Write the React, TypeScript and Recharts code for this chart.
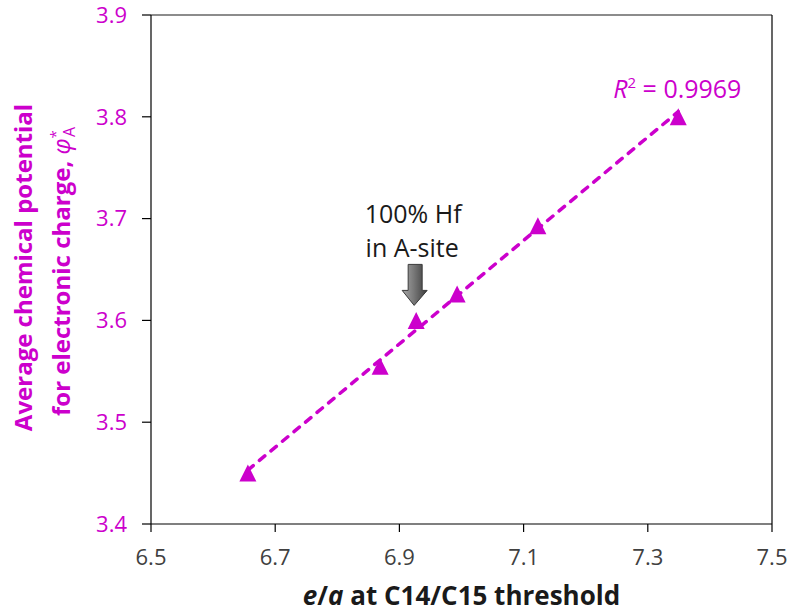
import React from "react";
import {
  ScatterChart,
  Scatter,
  XAxis,
  YAxis,
  Label,
  ReferenceLine,
  ReferenceDot,
} from "recharts";

// e/a at the C14/C15 threshold vs average chemical potential
const eaValues = [6.656, 6.869, 6.927, 6.993, 7.123, 7.349];
const phiValues = [3.45, 3.555, 3.6, 3.626, 3.693, 3.8];

// dashed linear trendline, end points
const trendX = [6.656, 7.349];
const trendY = [3.453, 3.805];

const xTicks = [6.5, 6.7, 6.9, 7.1, 7.3, 7.5];
const yTicks = [3.4, 3.5, 3.6, 3.7, 3.8, 3.9];

const rSquared = "0.9969";
const hfPoint = { x: 6.927, y: 3.6 };
const lastPoint = { x: 7.349, y: 3.8 };

const points = eaValues.map((x, i) => ({ x, y: phiValues[i] }));
const trend = trendX.map((x, i) => ({ x, y: trendY[i] }));

const MAGENTA = "#CC00CC";
const FONT = "'Open Sans', sans-serif";

function TriangleMarker(props: any) {
  const { cx, cy } = props;
  if (cx == null || cy == null) return <g />;
  const h = 8.5;
  return (
    <polygon
      points={`${cx},${cy - h} ${cx - h},${cy + h} ${cx + h},${cy + h}`}
      fill={MAGENTA}
    />
  );
}

function NoMarker() {
  return <g />;
}

function HfNote(props: any) {
  const { cx, cy } = props;
  if (cx == null || cy == null) return <g />;
  const arrow = [
    [cx - 8, cy - 56],
    [cx + 6, cy - 56],
    [cx + 6, cy - 30],
    [cx + 11, cy - 30],
    [cx - 2, cy - 15],
    [cx - 14, cy - 30],
    [cx - 8, cy - 30],
  ]
    .map((p) => p.join(","))
    .join(" ");
  return (
    <g>
      <defs>
        <linearGradient id="arrowGrad" x1="0" y1="0" x2="1" y2="0">
          <stop offset="0%" stopColor="#a8a8a8" />
          <stop offset="45%" stopColor="#7a7a7a" />
          <stop offset="100%" stopColor="#3c3c3c" />
        </linearGradient>
      </defs>
      <text
        x={cx - 3}
        y={cy - 97}
        textAnchor="middle"
        fontSize={25}
        fontFamily={FONT}
        fill="#1a1a1a"
      >
        100% Hf
      </text>
      <text
        x={cx - 4}
        y={cy - 63}
        textAnchor="middle"
        fontSize={25}
        fontFamily={FONT}
        fill="#1a1a1a"
      >
        in A-site
      </text>
      <polygon points={arrow} fill="url(#arrowGrad)" stroke="#3a3a3a" strokeWidth={1} />
    </g>
  );
}

function FitNote(props: any) {
  const { cx, cy } = props;
  if (cx == null || cy == null) return <g />;
  return (
    <text x={cx - 65} y={cy - 19} fontSize={25} fontFamily={FONT} fill={MAGENTA}>
      <tspan fontStyle="italic">R</tspan>
      <tspan fontSize={15} dy={-10}>
        2
      </tspan>
      <tspan dy={10}>{` = ${rSquared}`}</tspan>
    </text>
  );
}

function YTitle(props: any) {
  const vb = props.viewBox || {};
  const cy = (vb.y ?? 15) + (vb.height ?? 509) / 2;
  return (
    <g fill={MAGENTA} fontFamily={FONT} fontWeight={700} fontSize={24}>
      <text x={32} y={cy - 2} textAnchor="middle" transform={`rotate(-90, 32, ${cy - 2})`}>
        Average chemical potential
      </text>
      <text x={70} y={cy + 2} textAnchor="middle" transform={`rotate(-90, 70, ${cy + 2})`}>
        for electronic charge,{" "}
        <tspan fontStyle="italic" fontWeight={400}>
          φ
        </tspan>
        <tspan fontSize={15} fontWeight={400} dy={-9}>
          *
        </tspan>
        <tspan fontSize={16} fontWeight={400} dx={-7} dy={14}>
          A
        </tspan>
      </text>
    </g>
  );
}

function XTitle(props: any) {
  const vb = props.viewBox || {};
  const cx = (vb.x ?? 151) + (vb.width ?? 621) / 2;
  return (
    <text
      x={cx}
      y={605}
      textAnchor="middle"
      fontFamily={FONT}
      fontWeight={700}
      fontSize={26}
      fill="#1a1a1a"
    >
      <tspan fontStyle="italic">e</tspan>/<tspan fontStyle="italic">a</tspan> at C14/C15 threshold
    </text>
  );
}

export default function App() {
  return (
    <div style={{ position: "absolute", left: 0, top: 0, background: "#fff", fontFamily: FONT }}>
      <ScatterChart
        width={788}
        height={613}
        margin={{ top: 15, right: 16, bottom: 0, left: 0 }}
      >
        <XAxis
          type="number"
          dataKey="x"
          domain={[6.5, 7.5]}
          ticks={xTicks}
          tickFormatter={(v: number) => v.toFixed(1)}
          height={89}
          tickSize={8}
          tickMargin={17}
          axisLine={{ stroke: "#000", strokeWidth: 1.2 }}
          tickLine={{ stroke: "#000", strokeWidth: 1.2 }}
          tick={{ fill: "#404040", fontSize: 22, fontFamily: FONT }}
          allowDataOverflow
        >
          <Label content={XTitle} />
        </XAxis>
        <YAxis
          type="number"
          dataKey="y"
          domain={[3.4, 3.9]}
          ticks={yTicks}
          tickFormatter={(v: number) => v.toFixed(1)}
          width={151}
          tickSize={9}
          tickMargin={15}
          axisLine={{ stroke: "#000", strokeWidth: 1.2 }}
          tickLine={{ stroke: "#000", strokeWidth: 1.2 }}
          tick={{ fill: MAGENTA, fontSize: 22, fontFamily: FONT }}
          allowDataOverflow
        >
          <Label content={YTitle} />
        </YAxis>
        <ReferenceLine y={3.9} stroke="#8c8c8c" strokeWidth={2} />
        <ReferenceLine x={7.5} stroke="#000" strokeWidth={1.2} />
        <Scatter
          data={trend}
          line={{
            stroke: MAGENTA,
            strokeWidth: 3.5,
            strokeDasharray: "7 8",
            strokeLinecap: "round",
          }}
          lineType="joint"
          shape={NoMarker}
          isAnimationActive={false}
        />
        <Scatter data={points} shape={TriangleMarker} isAnimationActive={false} />
        <ReferenceDot x={hfPoint.x} y={hfPoint.y} r={0} shape={HfNote} />
        <ReferenceDot x={lastPoint.x} y={lastPoint.y} r={0} shape={FitNote} />
      </ScatterChart>
    </div>
  );
}
